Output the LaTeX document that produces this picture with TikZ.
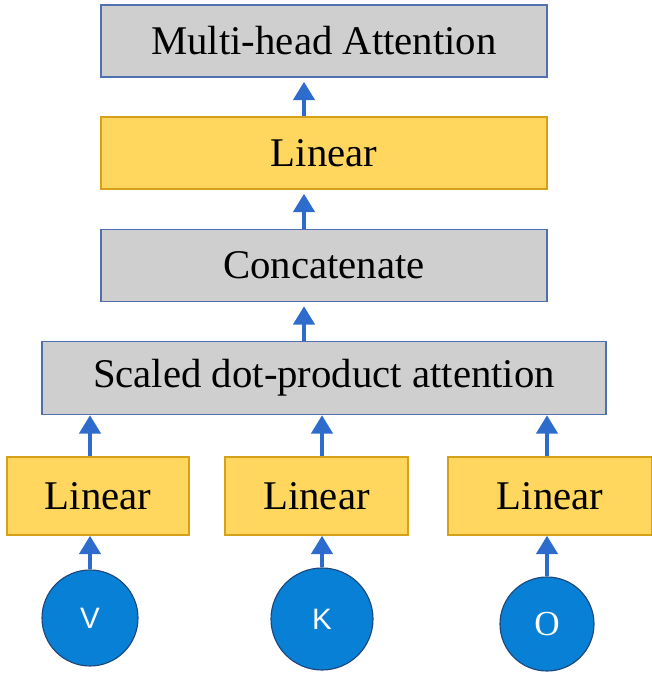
\documentclass[tikz,border=0pt]{standalone}
\usepackage{fontspec}
\setmainfont{Liberation Serif}
\setsansfont{Liberation Sans}
\usetikzlibrary{arrows.meta}
\definecolor{boxgray}{RGB}{207,207,207}
\definecolor{boxblue}{RGB}{80,112,175}
\definecolor{linfill}{RGB}{255,215,95}
\definecolor{linedge}{RGB}{215,160,25}
\definecolor{arrowblue}{RGB}{45,108,205}
\definecolor{inblue}{RGB}{8,128,214}
\definecolor{inedge}{RGB}{30,70,125}
\tikzset{every node/.style={align=center,inner sep=0pt,font=\fontsize{29}{34}\selectfont}}
\tikzset{every path/.style={-{Triangle[width=5.4mm,length=4.6mm]}}}
\tikzset{gbox/.style={rectangle,draw=boxblue,line width=1.2pt,fill=boxgray,minimum width=11.15cm,minimum height=1.8cm}}
\tikzset{ybox/.style={rectangle,draw=linedge,line width=1.2pt,fill=linfill,minimum height=1.95cm}}
\tikzset{inp/.style={circle,draw=inedge,line width=0.8pt,fill=inblue,text=white}}
\tikzset{flow/.style={draw=arrowblue,line width=2.2pt}}

\begin{document}
\begin{tikzpicture}
\useasboundingbox (0,0) rectangle (16.275,16.9);
\node[gbox](mha) at (8.1,15.875) {Multi-head Attention};
\node[ybox,minimum width=11.15cm,minimum height=1.8cm](lintop) at (8.1,13.075) {Linear};
\node[gbox](concat) at (8.1,10.2625) {Concatenate};
\node[gbox,minimum width=14.1cm,minimum height=1.825cm](att) at (8.1,7.45) {Scaled dot-product attention};
\node[ybox,minimum width=4.55cm](linv) at (2.45,4.5) {Linear};
\node[ybox,minimum width=4.575cm](link) at (7.9125,4.5) {Linear};
\node[ybox,minimum width=5.1cm](linq) at (13.75,4.5) {Linear};
\node[inp,minimum size=2.4cm,font=\sffamily\fontsize{21}{24}\selectfont](v) at (2.25,1.45) {V};
\node[inp,minimum size=2.55cm,font=\sffamily\fontsize{21}{24}\selectfont](k) at (8.05,1.425) {K};
\node[inp,minimum size=2.35cm,font=\fontsize{25}{28}\selectfont](q) at (13.675,1.3) {O};

\draw[flow] (v) -- (v |- linv.south);
\draw[flow] (k) -- (k |- link.south);
\draw[flow] (q) -- (q |- linq.south);
\draw[flow] (v |- linv.north) -- (v |- att.south);
\draw[flow] (k |- link.north) -- (k |- att.south);
\draw[flow] (q |- linq.north) -- (q |- att.south);
\draw[flow,shorten >=1mm] ([xshift=-5mm]att.north -| concat.south) -- ([xshift=-5mm]concat.south);
\draw[flow,shorten >=1mm] ([xshift=-5mm]concat.north) -- ([xshift=-5mm]lintop.south);
\draw[flow,shorten >=1mm] ([xshift=-5mm]lintop.north) -- ([xshift=-5mm]mha.south);
\end{tikzpicture}
\end{document}
